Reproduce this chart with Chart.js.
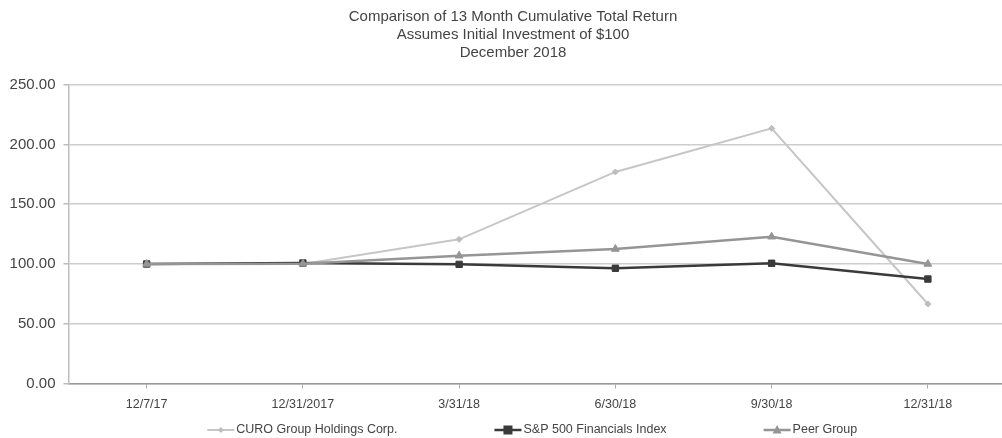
<!DOCTYPE html>
<html>
<head>
<meta charset="utf-8">
<script src="https://cdn.jsdelivr.net/npm/chart.js@4.4.1/dist/chart.umd.min.js"></script>
<style>
  html, body { margin: 0; padding: 0; background: #fff; overflow: hidden; }
  #wrap { width: 1028px; height: 438px; }
</style>
</head>
<body>
<div id="wrap"><canvas id="grafico" width="1028" height="438"></canvas></div>
<script>
const categorias = ['12/7/17', '12/31/2017', '3/31/18', '6/30/18', '9/30/18', '12/31/18'];
const curo = [100, 100, 120.6, 177, 213.5, 66.5];
const sp500 = [100, 100.8, 99.7, 96.4, 100.6, 87.4];
const peer = [100, 100.2, 106.9, 112.5, 122.8, 100];
const tituloLinhas = ['Comparison of 13 Month Cumulative Total Return', 'Assumes Initial Investment of $100', 'December 2018'];
const yMin = 0, yMax = 250, yStep = 50;

const fonte = '"Liberation Sans", Arial, sans-serif';

// legenda estilo Excel: linha + marcador + texto
function desenhaMarcador(ctx, estilo, x, y, r, cor) {
    ctx.fillStyle = cor;
    ctx.beginPath();
    if (estilo === 'rect') {
        ctx.rect(x - r, y - r, 2 * r, 2 * r);
    } else if (estilo === 'triangle') {
        ctx.moveTo(x, y - r * 1.1);
        ctx.lineTo(x + r, y + r * 0.8);
        ctx.lineTo(x - r, y + r * 0.8);
        ctx.closePath();
    } else {
        ctx.moveTo(x, y - r);
        ctx.lineTo(x + r, y);
        ctx.lineTo(x, y + r);
        ctx.lineTo(x - r, y);
        ctx.closePath();
    }
    ctx.fill();
}

const legendaExcel = {
    id: 'legendaExcel',
    afterDraw(chart) {
        const ctx = chart.ctx;
        const area = chart.chartArea;
        const linha = 27, espaco = 2, intervalo = 97, yCentro = 430;
        ctx.save();
        ctx.font = '12.5px ' + fonte;
        ctx.textBaseline = 'middle';
        const itens = chart.data.datasets.map(ds => ({ ds, w: linha + espaco + ctx.measureText(ds.label).width }));
        const total = itens.reduce((s, it) => s + it.w, 0) + intervalo * (itens.length - 1);
        let x = (area.left + area.right) / 2 - 5 - total / 2;
        itens.forEach(it => {
            const ds = it.ds;
            ctx.strokeStyle = ds.borderColor;
            ctx.lineWidth = ds.borderWidth;
            ctx.beginPath();
            ctx.moveTo(x, yCentro);
            ctx.lineTo(x + linha, yCentro);
            ctx.stroke();
            desenhaMarcador(ctx, ds.pointStyle, x + linha / 2, yCentro, ds.pointRadius, ds.pointBackgroundColor);
            ctx.fillStyle = '#444';
            ctx.fillText(ds.label, x + linha + espaco, yCentro);
            x += it.w + intervalo;
        });
        ctx.restore();
    }
};

const ctx = document.getElementById('grafico').getContext('2d');
const grafico = new Chart(ctx, {
    type: 'line',
    data: {
        labels: categorias,
        datasets: [{
            label: 'CURO Group Holdings Corp.',
            data: curo,
            borderColor: '#c6c6c6',
            borderWidth: 2,
            pointStyle: 'rectRot',
            pointRadius: 3,
            pointBackgroundColor: '#bdbdbd',
            pointBorderColor: '#bdbdbd',
            pointBorderWidth: 1,
            tension: 0,
            order: 3
        }, {
            label: 'S&P 500 Financials Index',
            data: sp500,
            borderColor: '#3a3a3a',
            borderWidth: 2.5,
            pointStyle: 'rect',
            pointRadius: 4.5,
            pointBackgroundColor: '#3a3a3a',
            pointBorderColor: '#3a3a3a',
            pointBorderWidth: 1,
            tension: 0,
            order: 2
        }, {
            label: 'Peer Group',
            data: peer,
            borderColor: '#959595',
            borderWidth: 2.5,
            pointStyle: 'triangle',
            pointRadius: 4.5,
            pointBackgroundColor: '#959595',
            pointBorderColor: '#959595',
            pointBorderWidth: 1,
            tension: 0,
            order: 1
        }]
    },
    options: {
        responsive: false,
        animation: false,
        layout: {
            padding: { left: 0, right: 2, top: 0, bottom: 0 }
        },
        plugins: {
            legend: { display: false },
            tooltip: { enabled: false },
            title: {
                display: true,
                text: tituloLinhas,
                color: '#444',
                font: { family: fonte, size: 15, weight: 'normal', lineHeight: 1.2 },
                padding: { top: 7.5, bottom: 23.2 }
            }
        },
        scales: {
            x: {
                offset: true,
                afterFit: s => { s.height = 54.5; },
                grid: {
                    display: true,
                    drawOnChartArea: false,
                    drawTicks: true,
                    tickLength: 5,
                    offset: false,
                    color: '#a8a8a8'
                },
                border: { display: true, color: '#9a9a9a', width: 1.5 },
                ticks: {
                    color: '#444',
                    padding: 8.5,
                    maxRotation: 0,
                    autoSkip: false,
                    font: { family: fonte, size: 12.5 }
                }
            },
            y: {
                min: yMin,
                max: yMax,
                afterFit: s => { s.width = 68.5; },
                grid: {
                    color: '#cdcdcd',
                    lineWidth: 1.5,
                    drawTicks: true,
                    tickLength: 5,
                    tickColor: '#bdbdbd'
                },
                border: { display: true, color: '#bdbdbd', width: 1.5 },
                ticks: {
                    stepSize: yStep,
                    color: '#444',
                    padding: 8,
                    font: { family: fonte, size: 15 },
                    callback: v => v.toFixed(2)
                }
            },
            // eixo vazio à direita, só para centralizar o título como no original
            margem: {
                type: 'linear',
                position: 'right',
                afterFit: s => { s.width = 20; },
                grid: { display: false },
                border: { display: false },
                ticks: { display: false }
            }
        }
    },
    plugins: [legendaExcel]
});
</script>
</body>
</html>
